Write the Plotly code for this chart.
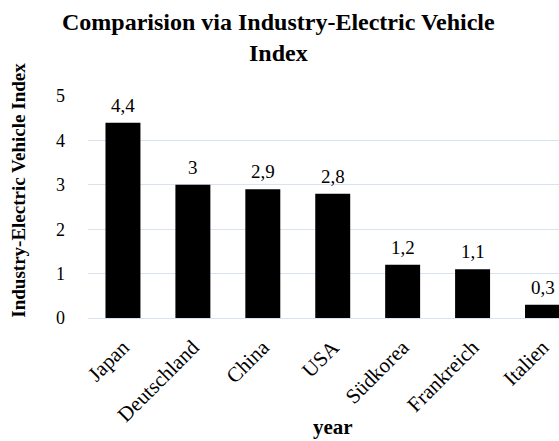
import plotly.graph_objects as go

# Industry-Electric Vehicle Index by country
countries = ["Japan", "Deutschland", "China", "USA", "Südkorea", "Frankreich", "Italien"]
index_values = [4.4, 3.0, 2.9, 2.8, 1.2, 1.1, 0.3]
y_ticks = [0, 1, 2, 3, 4, 5]

# labels use a decimal comma
value_labels = [f"{v:g}".replace(".", ",") for v in index_values]

SERIF = "Liberation Serif, Times New Roman, serif"
GRID = "#d9e2f1"

fig = go.Figure()
fig.add_trace(go.Bar(
    x=countries,
    y=index_values,
    width=0.5,
    marker=dict(color="#000000", line=dict(width=0)),
    hoverinfo="skip",
))

# value labels above each bar
for c, v, t in zip(countries, index_values, value_labels):
    fig.add_annotation(
        x=c, y=v, text=t, showarrow=False,
        xref="x", yref="y", yanchor="bottom", yshift=5,
        font=dict(family=SERIF, size=19, color="#000000"),
    )

# chart title
fig.add_annotation(
    text="<b>Comparision via Industry-Electric Vehicle<br>Index</b>", showarrow=False,
    xref="paper", yref="paper", x=0.4034, y=1.262,
    xanchor="center", yanchor="middle",
    font=dict(family=SERIF, size=24, color="#000000"),
)

# axis titles
fig.add_annotation(
    text="<b>year</b>", showarrow=False,
    xref="paper", yref="paper", x=0.52, y=-0.492,
    xanchor="center", yanchor="middle",
    font=dict(family=SERIF, size=21, color="#000000"),
)
fig.add_annotation(
    text="<b>Industry-Electric Vehicle Index</b>", showarrow=False,
    xref="paper", yref="paper", x=-0.147, y=0.577,
    xanchor="center", yanchor="middle", textangle=-90,
    font=dict(family=SERIF, size=19, color="#000000"),
)

fig.update_layout(
    width=559, height=441,
    margin=dict(l=88, r=0, t=96, b=123),
    paper_bgcolor="#ffffff",
    plot_bgcolor="#ffffff",
    showlegend=False,
    bargap=0.5,
    xaxis=dict(
        type="category",
        range=[-0.5, 6.236],
        tickangle=-45,
        tickfont=dict(family=SERIF, size=21, color="#000000"),
        showgrid=False,
        showline=False,
        ticks="",
        zeroline=False,
        ticklabelstandoff=12,
    ),
    yaxis=dict(
        range=[0, 5],
        tickvals=y_ticks,
        tickfont=dict(family=SERIF, size=18, color="#000000"),
        showgrid=True,
        gridcolor=GRID,
        gridwidth=1,
        zeroline=True,
        zerolinecolor=GRID,
        zerolinewidth=1,
        showline=False,
        ticks="",
        ticklabelstandoff=22,
    ),
)

fig.write_html("out.html")
